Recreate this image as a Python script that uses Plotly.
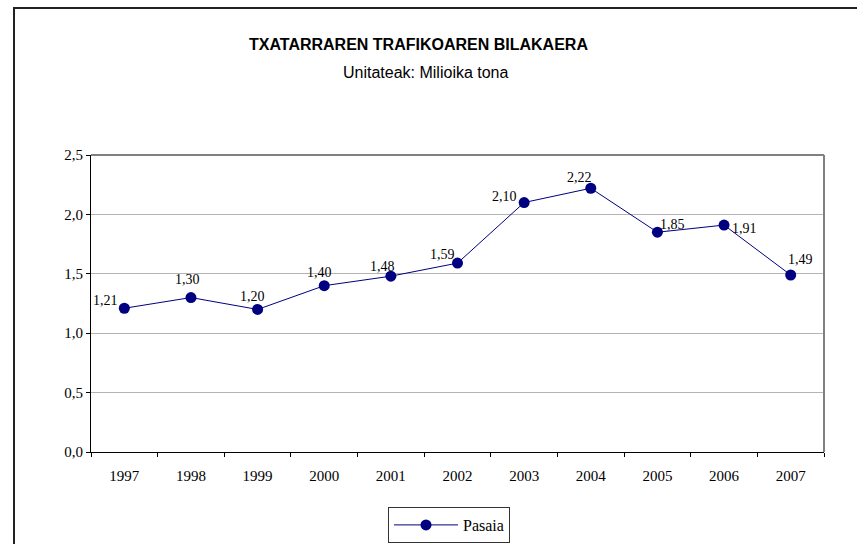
import plotly.graph_objects as go

years = ["1997", "1998", "1999", "2000", "2001", "2002", "2003", "2004", "2005", "2006", "2007"]
pasaia = [1.21, 1.30, 1.20, 1.40, 1.48, 1.59, 2.10, 2.22, 1.85, 1.91, 1.49]

# label offsets (pixels) relative to each marker
label_dx = [-19, -3, -5, -5, -8, -15, -20, -11, 15, 20, 10]
label_dy = [8, 18, 13, 13, 10, 9, 6, 11, 8, -3, 15]

title = "TXATARRAREN TRAFIKOAREN BILAKAERA"
subtitle = "Unitateak: Milioika tona"

W, H = 857, 544
L, R, T, B = 91, 824, 155, 452
pw, ph = R - L, B - T

def px(x):
    return (x - L) / pw

def py(y):
    return (B - y) / ph

def fmt(v):
    return f"{v:.2f}".replace(".", ",")

fig = go.Figure()
fig.add_trace(go.Scatter(
    x=years, y=pasaia, name="Pasaia",
    mode="lines+markers",
    line=dict(color="#000080", width=1),
    marker=dict(color="#000080", size=11),
    cliponaxis=False,
))

annotations = [
    dict(x=i, y=v, xref="x", yref="y", text=fmt(v), showarrow=False,
         xshift=dx, yshift=dy,
         font=dict(family="Liberation Serif", size=14, color="black"))
    for i, (v, dx, dy) in enumerate(zip(pasaia, label_dx, label_dy))
]
annotations += [
    dict(text="<b>" + title + "</b>", x=px(418), y=py(45), xref="paper", yref="paper",
         xanchor="center", yanchor="middle",
         showarrow=False, font=dict(family="Liberation Sans", size=16, color="black")),
    dict(text=subtitle, x=px(426), y=py(73), xref="paper", yref="paper",
         xanchor="center", yanchor="middle",
         showarrow=False, font=dict(family="Liberation Sans", size=16, color="black")),
]

fig.update_layout(
    width=W, height=H,
    margin=dict(l=L, r=W - R, t=T, b=H - B, autoexpand=False),
    paper_bgcolor="white", plot_bgcolor="white",
    separators=",.",
    showlegend=True,
    font=dict(family="Liberation Serif", size=15, color="black"),
    legend=dict(
        orientation="h", x=px(449), xanchor="center", y=py(507), yanchor="top",
        bordercolor="#333333", borderwidth=1, itemwidth=64,
        font=dict(family="Liberation Serif", size=16, color="black"),
    ),
    xaxis=dict(
        type="category", range=[-0.5, len(years) - 0.5],
        showgrid=False, showline=True, linecolor="black", linewidth=1,
        ticks="outside", ticklen=4, tickcolor="black", tickson="boundaries",
        tickfont=dict(family="Liberation Serif", size=15), tickangle=0,
        ticklabelstandoff=10,
    ),
    yaxis=dict(
        range=[0, 2.5], dtick=0.5, tickformat=".1f",
        showgrid=True, gridcolor="#b4b4b4", gridwidth=1,
        showline=True, linecolor="black", linewidth=1,
        ticks="outside", ticklen=4, tickcolor="black",
        tickfont=dict(family="Liberation Serif", size=15),
        zeroline=False,
    ),
    annotations=annotations,
    shapes=[
        dict(type="rect", xref="paper", yref="paper", x0=px(14), x1=px(880), y0=py(580), y1=py(8),
             line=dict(color="#222222", width=2), layer="below"),
        dict(type="line", xref="paper", yref="paper", x0=0, x1=1, y0=1, y1=1,
             line=dict(color="black", width=1)),
        dict(type="line", xref="paper", yref="paper", x0=1, x1=1, y0=0, y1=1,
             line=dict(color="#808080", width=2)),
    ],
)

fig.write_html("out.html", config={"displayModeBar": False},
               post_script="document.body.style.margin='0';")
